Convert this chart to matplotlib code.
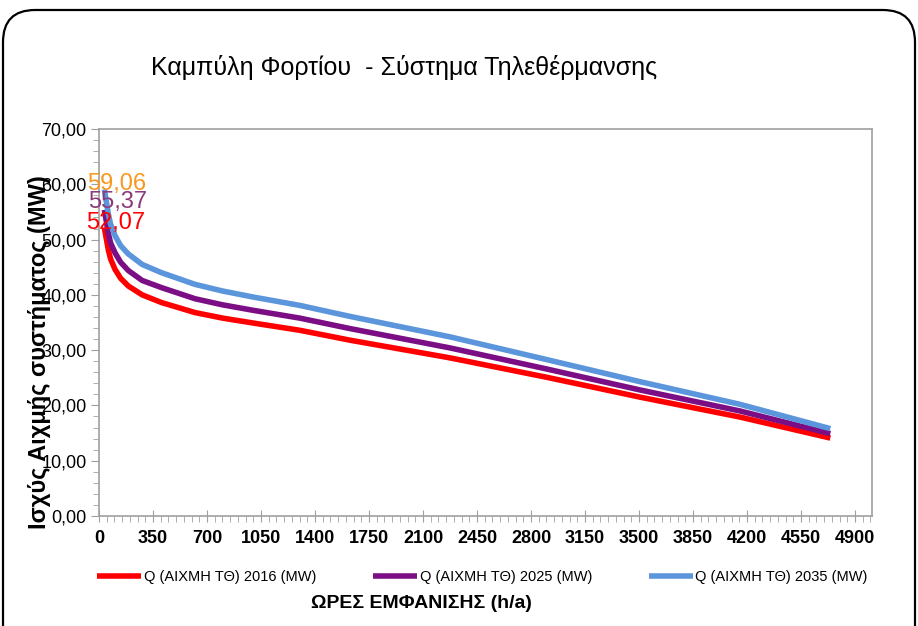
import numpy as np
import matplotlib.pyplot as plt
from matplotlib.patches import FancyBboxPatch
from matplotlib.ticker import MultipleLocator, FuncFormatter

plt.rcParams['font.family'] = ['Liberation Sans', 'DejaVu Sans']

# hours of occurrence (h/a) and load (MW)
hours = [35, 60, 75, 104, 140, 190, 280, 406, 622, 800, 1000, 1300, 1627, 2275, 2900, 3506, 4154, 4740]
q_2016 = [52.07, 48.2, 46.5, 44.6, 43.0, 41.6, 40.0, 38.6, 36.8, 35.8, 34.9, 33.6, 31.8, 28.6, 25.1, 21.5, 17.9, 14.1]
q_2025 = [55.37, 51.2, 49.4, 47.6, 45.9, 44.4, 42.6, 41.3, 39.3, 38.2, 37.2, 35.8, 33.9, 30.4, 26.6, 22.8, 19.0, 14.9]
q_2035 = [59.06, 54.7, 52.8, 50.7, 48.9, 47.4, 45.5, 44.0, 41.9, 40.7, 39.6, 38.1, 36.1, 32.4, 28.3, 24.3, 20.2, 15.8]

labels = ["Q (ΑΙΧΜΗ ΤΘ) 2016 (MW)", "Q (ΑΙΧΜΗ ΤΘ) 2025 (MW)", "Q (ΑΙΧΜΗ ΤΘ) 2035 (MW)"]
line_colors = ["#FF0000", "#7B0E85", "#5B95DB"]
peak_colors = ["#FF0000", "#8B3A7A", "#F7981D"]

fig = plt.figure(figsize=(9.18, 6.26), dpi=100)
ax = fig.add_axes([99 / 918, 1 - 516 / 626, (872 - 99) / 918, (516 - 129) / 626])

# rounded chart-area border
border = FancyBboxPatch((3 / 918, -0.1), 912 / 918, 1.1 - 10 / 626,
                        boxstyle="round,pad=0,rounding_size=0.035",
                        transform=fig.transFigure, facecolor="none",
                        edgecolor="black", linewidth=1.6, zorder=0,
                        mutation_aspect=918 / 626)
fig.patches.append(border)

series = [q_2016, q_2025, q_2035]
for vals, col, lab in zip(series, line_colors, labels):
    ax.plot(hours, vals, color=col, linewidth=4, label=lab, solid_capstyle="butt")

# peak labels
ax.text(-84, 53.0, "52,07", color=peak_colors[0], fontsize=17, ha="left", va="center")
ax.text(-71, 56.8, "55,37", color=peak_colors[1], fontsize=17, ha="left", va="center")
ax.text(-78, 60.0, "59,06", color=peak_colors[2], fontsize=17, ha="left", va="center")

ax.set_xlim(0, 5010)
ax.set_ylim(0, 70)
ax.xaxis.set_minor_locator(MultipleLocator(50))
ax.yaxis.set_major_locator(MultipleLocator(10))
ax.yaxis.set_minor_locator(MultipleLocator(2))
ax.yaxis.set_major_formatter(FuncFormatter(lambda v, p: f"{v:.2f}".replace(".", ",")))
ax.set_xticks(np.arange(0, 4901, 350))

for s in ax.spines.values():
    s.set_color("#A0A0A0")
    s.set_linewidth(1.2)
ax.tick_params(axis="x", which="major", direction="inout", length=8, color="#A0A0A0",
               labelsize=13, pad=6)
ax.tick_params(axis="x", which="minor", direction="out", length=4, color="#A0A0A0")
ax.tick_params(axis="y", which="major", direction="out", length=6, color="#A0A0A0",
               labelsize=13, pad=3)
ax.tick_params(axis="y", which="minor", direction="out", length=4, color="#A0A0A0")
for t in ax.get_xticklabels():
    t.set_fontweight("bold")

fig.text(404 / 918, 1 - 67 / 626, "Καμπύλη Φορτίου  - Σύστημα Τηλεθέρμανσης",
         fontsize=18, ha="center", va="center")
fig.text(421 / 918, 1 - 603 / 626, "ΩΡΕΣ ΕΜΦΑΝΙΣΗΣ (h/a)", fontsize=14,
         fontweight="bold", ha="center", va="center")
fig.text(40 / 918, 1 - 352 / 626, "Ισχύς Αιχμής συστήματος (MW)", fontsize=17,
         fontweight="bold", ha="center", va="center", rotation=90)

fig.legend(loc="center left", bbox_to_anchor=(97 / 918, 1 - 577 / 626), ncol=3,
           frameon=False, fontsize=10.5, handlelength=3.0, handletextpad=0.2,
           columnspacing=3.9, borderaxespad=0, borderpad=0)

fig.savefig("out.png", dpi=100)
